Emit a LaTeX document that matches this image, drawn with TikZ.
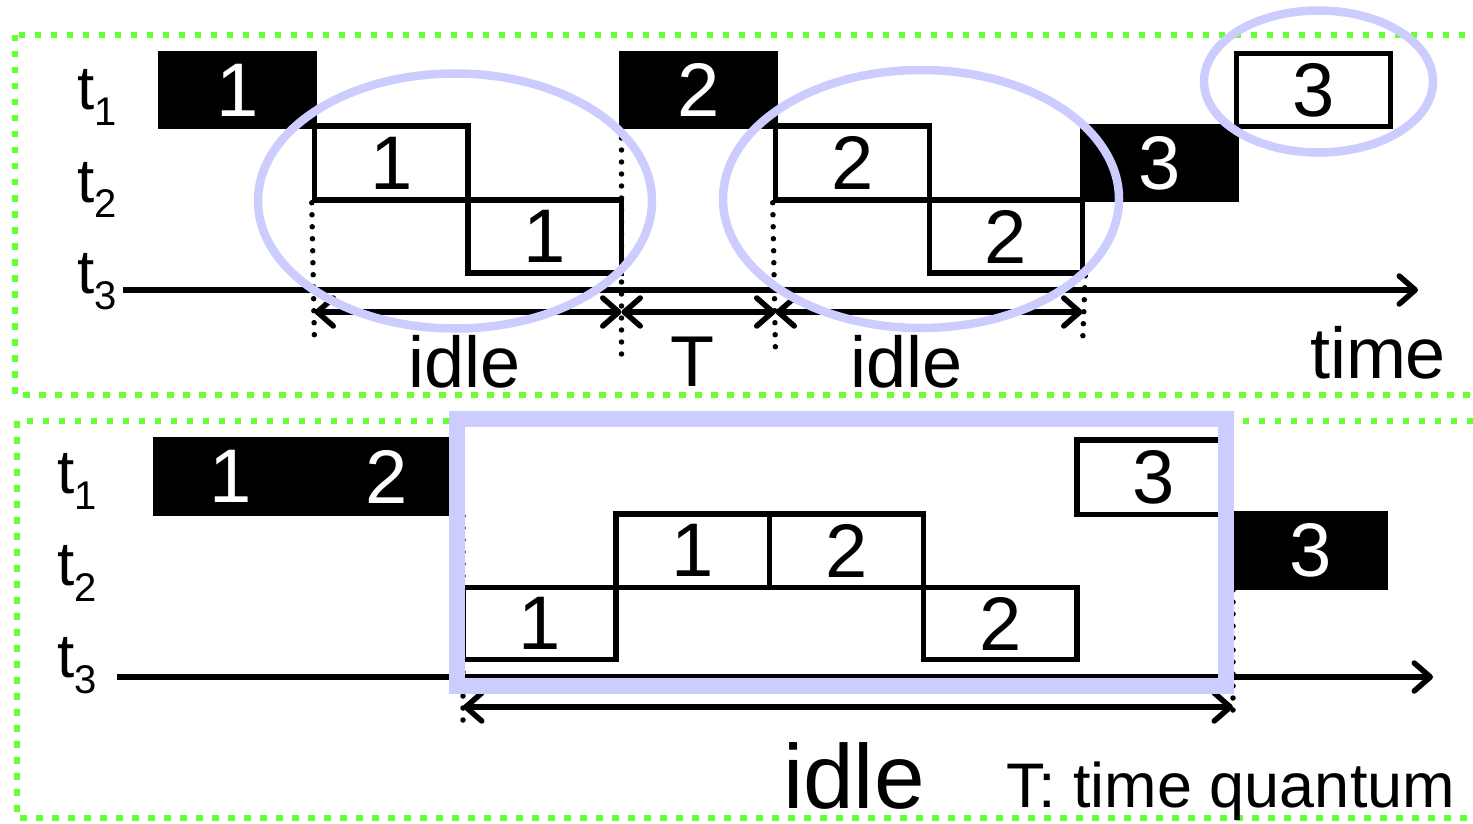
\documentclass[tikz,border=0pt]{standalone}
\usepackage{fontspec}
\setmainfont{Liberation Sans}
\usetikzlibrary{arrows.meta}
\definecolor{grn}{RGB}{102,255,51}
\definecolor{lav}{RGB}{204,204,255}
\newcommand\digfont{\fontsize{76pt}{76pt}\selectfont}
\newcommand\labfont{\fontsize{72pt}{72pt}\selectfont}
\newcommand\bigidlefont{\fontsize{91pt}{91pt}\selectfont}
\newcommand\notefont{\fontsize{63pt}{63pt}\selectfont}
\newcommand\tlabfont{\fontsize{62pt}{62pt}\selectfont}
\newcommand\tsubfont{\fontsize{40pt}{40pt}\selectfont}
\newcommand\tlab[1]{\tlabfont t\raisebox{-16pt}{\tsubfont #1}}
\tikzset{
  panel/.style={draw=grn, line width=6.5pt, dash pattern=on 6.5pt off 9.5pt},
  blk/.style={rectangle, fill=black, text=white, font=\digfont, inner sep=0pt},
  wht/.style={rectangle, draw=black, line width=5.5pt, font=\digfont, inner sep=0pt},
  tip/.style={Straight Barb[length=16pt,width=28pt,round]},
  axis/.style={line width=5.5pt, -{Straight Barb[length=16pt,width=28pt,round]}},
  dim/.style={line width=5.5pt, {Straight Barb[length=16pt,width=28pt,round]}-{Straight Barb[length=16pt,width=28pt,round]}},
  guide/.style={line width=5.5pt, dash pattern=on 0pt off 12pt, line cap=round},
  lavline/.style={draw=lav, line width=8.5pt},
  lab/.style={anchor=base, inner sep=0pt}
}
\begin{document}
\begin{tikzpicture}[x=1pt,y=-1pt]
\useasboundingbox (0,0) rectangle (1473,824);
% panels
\draw[panel] (15,35) rectangle (1500,395);
\draw[panel] (17,421) rectangle (1500,818);

% ---------------- top panel ----------------
\node[anchor=base west, inner sep=0pt] (t1a) at (77,110) {\tlab{1}};
\node[anchor=base west, inner sep=0pt] (t2a) at (77,202) {\tlab{2}};
\node[anchor=base west, inner sep=0pt] (t3a) at (77,293) {\tlab{3}};

\node[blk, minimum width=159pt, minimum height=78pt] (a1) at (237.5,90) {1};
\node[blk, minimum width=159pt, minimum height=78pt] (a2) at (698.5,90) {2};
\node[blk, minimum width=159pt, minimum height=78pt] (a3) at (1159.5,163) {3};
\node[wht, minimum width=154pt, minimum height=73pt] (w3) at (1313.5,90) {3};
\node[wht, minimum width=153.5pt, minimum height=74pt] (b1) at (391.25,163) {1};
\node[wht, minimum width=153.5pt, minimum height=73pt] (c1) at (544.75,236.5) {1};
\node[wht, minimum width=154pt, minimum height=74pt] (b2) at (852.5,163) {2};
\node[wht, minimum width=153pt, minimum height=73pt] (c2) at (1006,236.5) {2};

\coordinate (ax0) at (123,290);
\coordinate (ax1) at (1418,290);
\draw[axis] (ax0) -- (ax1);

\coordinate (g1b) at (314.5,343);
\coordinate (g2a) at (621.5,138);
\coordinate (g2b) at (621.5,354);
\coordinate (g3b) at (775.5,354);
\coordinate (g4b) at (1082.5,345);
\draw[guide] (b1.south west) -- (g1b);
\draw[guide] (g2a) -- (g2b);
\draw[guide] (b2.south west) -- (g3b);
\draw[guide] (c2.south east) -- (g4b);

\coordinate (d0) at (314.5,312);
\coordinate (d1) at (621.5,312);
\coordinate (d2) at (775.5,312);
\coordinate (d3) at (1082.5,312);
\draw[dim] (d0) -- (d1);
\draw[dim] (d1) -- (d2);
\draw[dim] (d2) -- (d3);

\node[lab, font=\labfont] (idle1) at (465,387) {idle};
\node[lab, font=\labfont] (tq) at (692,386) {T};
\node[lab, font=\labfont] (idle2) at (907,387) {idle};
\node[lab, font=\labfont] (time) at (1378,378) {time};

\draw[lavline] (455,201) ellipse [x radius=197, y radius=127.5];
\draw[lavline] (921,199) ellipse [x radius=198, y radius=129];
\draw[lavline] (1318.5,81.5) ellipse [x radius=114.5, y radius=71];

% ---------------- bottom panel ----------------
\node[anchor=base west, inner sep=0pt] (t1b) at (57,493) {\tlab{1}};
\node[anchor=base west, inner sep=0pt] (t2b) at (57,585) {\tlab{2}};
\node[anchor=base west, inner sep=0pt] (t3b) at (57,677) {\tlab{3}};

\node[blk, minimum width=156pt, minimum height=79pt] (k1) at (231,476.5) {1};
\node[blk, minimum width=156pt, minimum height=79pt] (k2) at (387,476.5) {2};
\node[blk, minimum width=154pt, minimum height=79pt] (k3) at (1311,550.5) {3};
\node[wht, minimum width=154pt, minimum height=74.5pt] (m3) at (1154,477.25) {3};
\node[wht, minimum width=153.5pt, minimum height=73.5pt] (n1) at (692.75,550.75) {1};
\node[wht, minimum width=154pt, minimum height=73.5pt] (n2) at (846.5,550.75) {2};
\node[wht, minimum width=153pt, minimum height=72pt] (p1) at (539.5,623.5) {1};
\node[wht, minimum width=153.5pt, minimum height=72pt] (p2) at (1000.25,623.5) {2};

\coordinate (bx0) at (117,677);
\coordinate (bx1) at (1433,677);
\draw[axis] (bx0) -- (bx1);

\coordinate (h1a) at (463,516);
\coordinate (h1b) at (463,730);
\coordinate (h2a) at (1233,590);
\coordinate (h2b) at (1233,718);
\draw[guide] (h1a) -- (h1b);
\draw[guide] (h2a) -- (h2b);

\coordinate (e0) at (463,707);
\coordinate (e1) at (1233,707);
\draw[dim] (e0) -- (e1);

\draw[draw=lav, line width=15.5pt] (457,419) rectangle (1226,686);

\node[lab, font=\bigidlefont] (idle3) at (854,808) {idle};
\node[lab, font=\notefont] (note) at (1231,807) {T: time quantum};
\end{tikzpicture}
\end{document}
